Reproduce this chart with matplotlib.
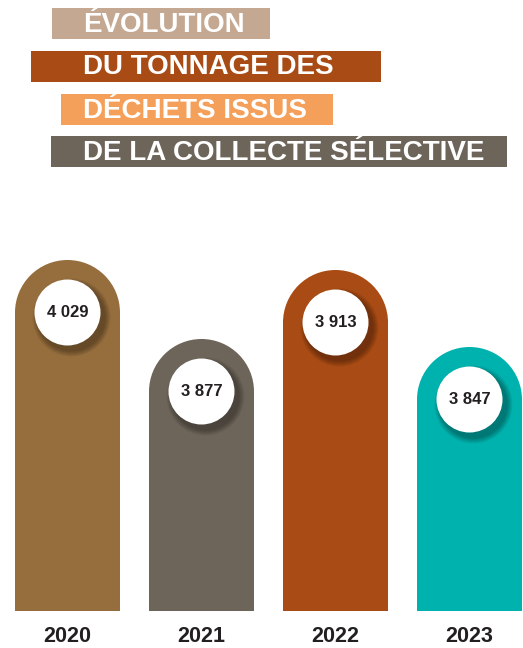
import matplotlib
matplotlib.use("Agg")
import matplotlib.pyplot as plt
from matplotlib.patches import Ellipse, Rectangle

plt.rcParams["font.family"] = ["Liberation Sans", "DejaVu Sans"]

W, H = 523, 648   # output size in px (dpi 100)

# ── data ──────────────────────────────────────────────────────────────────────
years       = ["2020", "2021", "2022", "2023"]
tonnage     = [4029, 3877, 3913, 3847]
# bar heights as drawn in the source graphic (px above baseline);
# the original is not drawn to scale, so these are read off the picture
bar_heights = [351, 272, 341, 264]
bar_colors  = ["#966e3d", "#6e655a", "#a84b14", "#00b2ad"]

title_lines  = ["ÉVOLUTION", "DU TONNAGE DES", "DÉCHETS ISSUS",
                "DE LA COLLECTE SÉLECTIVE"]
title_colors = ["#c4a891", "#a84b14", "#f5a05a", "#6e655a"]
# (left, right, top) of each title band in px
title_boxes  = [(52, 270, 8), (31, 381, 51), (61, 333, 94), (51, 507, 136)]
BAND_H = 31
TEXT_X = 83

DARK = "#231f20"

fig = plt.figure(figsize=(W / 100, H / 100), dpi=100)
fig.patch.set_facecolor("white")

# ── title bands ───────────────────────────────────────────────────────────────
for line, col, (l, r, t) in zip(title_lines, title_colors, title_boxes):
    fig.patches.append(Rectangle((l / W, 1 - (t + BAND_H) / H), (r - l) / W, BAND_H / H,
                                 transform=fig.transFigure, color=col, lw=0))
    fig.text(TEXT_X / W, 1 - (t + BAND_H / 2 + 1) / H, line, color="white",
             fontsize=20, fontweight="bold", ha="left", va="center")

# ── bars ─────────────────────────────────────────────────────────────────────
BASE = 611                # baseline y in px from top
AX_H = 400
PX_PER_X = 134            # spacing between bar centres
BAR_W = 105
R_TOP = BAR_W / 2
R_DOT = 33

ax = fig.add_axes([0, (H - BASE) / H, 1, AX_H / H])
ax.set_xlim(-67.5 / PX_PER_X, (W - 67.5) / PX_PER_X)
ax.set_ylim(0, AX_H)
ax.axis("off")

wx = BAR_W / PX_PER_X
for i, (hgt, col, val, yr) in enumerate(zip(bar_heights, bar_colors, tonnage, years)):
    ax.bar(i, hgt - R_TOP, width=wx, color=col, lw=0)
    ax.add_patch(Ellipse((i, hgt - R_TOP), wx, BAR_W, color=col, lw=0))

    cy = hgt - R_TOP
    # soft drop shadow, towards the bottom right
    for k in range(6):
        grow = 2 * (6 - k)
        ax.add_patch(Ellipse((i + 4 / PX_PER_X, cy - 5),
                             (2 * R_DOT + grow) / PX_PER_X, 2 * R_DOT + grow,
                             color="black", alpha=0.06, lw=0))
    ax.add_patch(Ellipse((i, cy), 2 * R_DOT / PX_PER_X, 2 * R_DOT, color="white", lw=0))
    ax.text(i, cy, f"{val:,}".replace(",", " "), ha="center", va="center",
            fontsize=12, fontweight="bold", color=DARK)

    ax.text(i, -25, yr, ha="center", va="center", fontsize=15.5,
            fontweight="bold", color=DARK, clip_on=False)

fig.savefig("out.png", dpi=100, facecolor="white")
